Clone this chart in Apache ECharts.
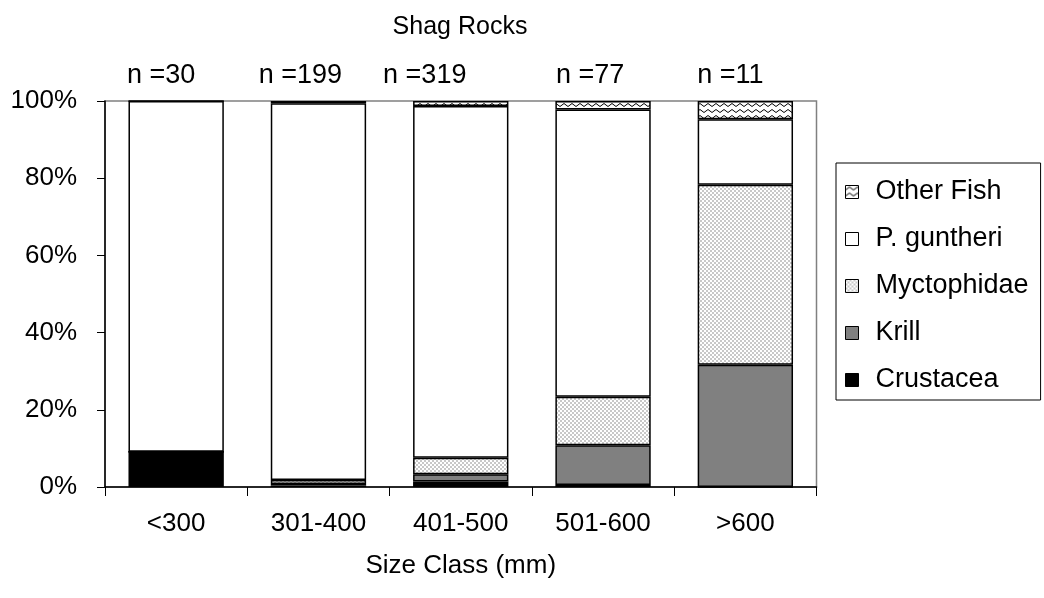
<!DOCTYPE html>
<html>
<head>
<meta charset="utf-8">
<script src="https://cdn.jsdelivr.net/npm/echarts@6/dist/echarts.min.js"></script>
<style>
  html, body { margin: 0; padding: 0; background: #fff; }
  #chart { width: 1044px; height: 598px; }
</style>
</head>
<body>
<div id="chart"></div>
<script>
const categories = ['<300', '301-400', '401-500', '501-600', '>600']
const sampleSizes = ['n =30', 'n =199', 'n =319', 'n =77', 'n =11']
// the n= text boxes sit a little left of the bar centres (px)
const sampleShift = [15, 18, 36, 13, 15]

// percentages, bottom to top
const crustacea = [9.1, 0.4, 1.4, 0.5, 0]
const krill = [0, 0.4, 1.9, 10.3, 31.7]
const myctophidae = [0, 1.0, 4.3, 12.6, 46.6]
const pGuntheri = [90.9, 97.6, 91.1, 74.4, 17.0]
const otherFish = [0, 0.6, 1.3, 2.2, 4.7]

const yTicks = [0, 20, 40, 60, 80, 100]

// small canvas tiles for the hatched fills
function checkerTile() {
  const c = document.createElement('canvas')
  c.width = 4
  c.height = 4
  const ctx = c.getContext('2d')
  ctx.fillStyle = '#ffffff'
  ctx.fillRect(0, 0, 4, 4)
  ctx.fillStyle = '#c8c8c8'
  ctx.fillRect(0, 0, 2, 2)
  ctx.fillRect(2, 2, 2, 2)
  return c
}

function waveTile() {
  const c = document.createElement('canvas')
  c.width = 8
  c.height = 6
  const ctx = c.getContext('2d')
  ctx.fillStyle = '#ffffff'
  ctx.fillRect(0, 0, 8, 6)
  ctx.strokeStyle = '#000000'
  ctx.lineWidth = 1
  ctx.beginPath()
  ctx.moveTo(0, 4.5)
  ctx.lineTo(4, 1.5)
  ctx.lineTo(8, 4.5)
  ctx.stroke()
  return c
}

const fills = {
  crustacea: '#000000',
  krill: '#808080',
  myctophidae: { image: checkerTile(), repeat: 'repeat' },
  pGuntheri: '#ffffff',
  otherFish: { image: waveTile(), repeat: 'repeat' }
}

const font = 'Liberation Sans, Arial, sans-serif'

function makeSeries(name, data, color) {
  return {
    name: name,
    type: 'bar',
    stack: 'total',
    data: data,
    barWidth: '67%',
    itemStyle: { color: color, borderColor: '#000', borderWidth: 1.5 },
    emphasis: { disabled: true }
  }
}

// rich styles that nudge each n= label to the left
const sampleRich = {}
sampleShift.forEach((s, i) => {
  sampleRich['s' + i] = { fontFamily: font, fontSize: 27, color: '#000', padding: [0, 2 * s, 0, 0] }
})

const chart = echarts.init(document.getElementById('chart'), null, { renderer: 'canvas' })

const option = {
  animation: false,
  backgroundColor: '#fff',
  textStyle: { fontFamily: font },
  title: {
    text: 'Shag Rocks',
    left: 455,
    top: 10,
    textAlign: 'center',
    textStyle: { fontFamily: font, fontSize: 25, fontWeight: 'normal', color: '#000' }
  },
  grid: {
    left: 105,
    right: 227.5,
    top: 101,
    bottom: 111,
    show: true,
    borderColor: '#808080',
    borderWidth: 1.5,
    backgroundColor: '#fff'
  },
  legend: {
    orient: 'vertical',
    left: 836,
    top: 163,
    data: ['Other Fish', 'P. guntheri', 'Myctophidae', 'Krill', 'Crustacea'],
    icon: 'rect',
    itemWidth: 13,
    itemHeight: 13,
    itemGap: 19,
    padding: [15, 12, 6, 9],
    borderColor: '#000',
    borderWidth: 1,
    itemStyle: { borderColor: '#000', borderWidth: 1 },
    textStyle: { fontFamily: font, fontSize: 27, color: '#000', lineHeight: 28, padding: [0, 0, 0, 12] }
  },
  xAxis: [
    {
      type: 'category',
      data: categories,
      position: 'bottom',
      name: 'Size Class (mm)',
      nameLocation: 'middle',
      nameGap: 66,
      nameTextStyle: { fontFamily: font, fontSize: 26, color: '#000' },
      axisLine: { lineStyle: { color: '#000', width: 1.5 } },
      axisTick: { show: true, length: 9, lineStyle: { color: '#000' } },
      axisLabel: { fontFamily: font, fontSize: 26, color: '#000', margin: 24 }
    },
    {
      type: 'category',
      data: sampleSizes,
      position: 'top',
      axisLine: { show: false },
      axisTick: { show: false },
      axisLabel: {
        interval: 0,
        hideOverlap: false,
        fontFamily: font,
        fontSize: 27,
        color: '#000',
        margin: 12,
        formatter: (value, index) => '{s' + index + '|' + value + '}',
        rich: sampleRich
      }
    }
  ],
  yAxis: {
    type: 'value',
    min: yTicks[0],
    max: yTicks[yTicks.length - 1],
    interval: 20,
    axisLine: { show: true, lineStyle: { color: '#000', width: 1.5 } },
    axisTick: { show: true, length: 8, lineStyle: { color: '#000' } },
    splitLine: { show: false },
    axisLabel: { fontFamily: font, fontSize: 26, color: '#000', margin: 28, formatter: '{value}%' }
  },
  series: [
    makeSeries('Crustacea', crustacea, fills.crustacea),
    makeSeries('Krill', krill, fills.krill),
    makeSeries('Myctophidae', myctophidae, fills.myctophidae),
    makeSeries('P. guntheri', pGuntheri, fills.pGuntheri),
    makeSeries('Other Fish', otherFish, fills.otherFish)
  ]
}

chart.setOption(option)
</script>
</body>
</html>
